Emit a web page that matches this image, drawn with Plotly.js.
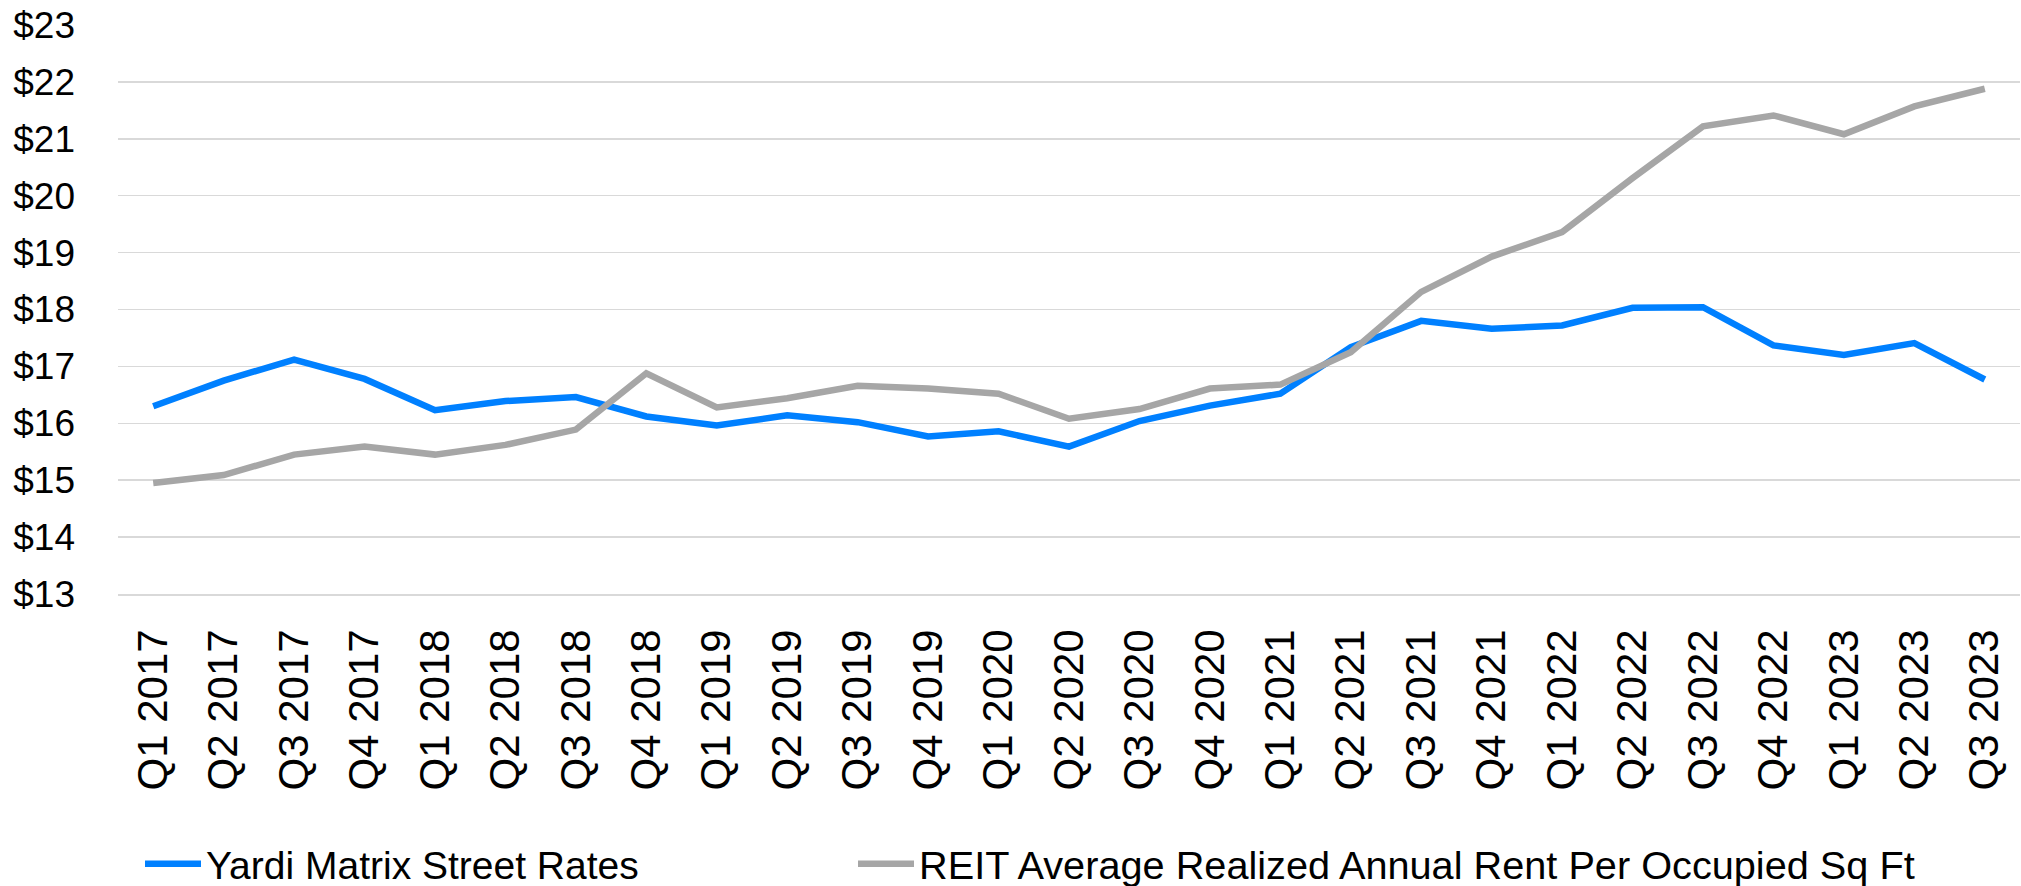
<!DOCTYPE html>
<html>
<head>
<meta charset="utf-8">
<script src="https://cdn.plot.ly/plotly-3.0.1.min.js"></script>
<style>
  html, body { margin: 0; padding: 0; background: #ffffff; }
  #chart { width: 2021px; height: 886px; }
</style>
</head>
<body>
<div id="chart"></div>
<script>
const quarters = [
  'Q1 2017','Q2 2017','Q3 2017','Q4 2017',
  'Q1 2018','Q2 2018','Q3 2018','Q4 2018',
  'Q1 2019','Q2 2019','Q3 2019','Q4 2019',
  'Q1 2020','Q2 2020','Q3 2020','Q4 2020',
  'Q1 2021','Q2 2021','Q3 2021','Q4 2021',
  'Q1 2022','Q2 2022','Q3 2022','Q4 2022',
  'Q1 2023','Q2 2023','Q3 2023'
];
const yardiStreetRates = [
  16.30, 16.75, 17.12, 16.78, 16.23, 16.39, 16.46,
  16.12, 15.96, 16.14, 16.02, 15.77, 15.86, 15.59,
  16.04, 16.31, 16.52, 17.34, 17.80, 17.66, 17.72,
  18.03, 18.04, 17.37, 17.20, 17.41, 16.77
];
const reitRealizedRent = [
  14.95, 15.09, 15.45, 15.59, 15.45, 15.62, 15.89,
  16.88, 16.28, 16.44, 16.66, 16.61, 16.52, 16.08,
  16.25, 16.61, 16.68, 17.25, 18.31, 18.93, 19.36,
  20.31, 21.22, 21.41, 21.08, 21.57, 21.88
];
const seriesNames = ['Yardi Matrix Street Rates', 'REIT Average Realized Annual Rent Per Occupied Sq Ft'];
const yTickValues = [13, 14, 15, 16, 17, 18, 19, 20, 21, 22, 23];
const yTickLabels = ['$13', '$14', '$15', '$16', '$17', '$18', '$19', '$20', '$21', '$22', '$23'];

const FONT = '"Liberation Sans", Arial, sans-serif';

const traces = [
  {
    x: quarters, y: yardiStreetRates, name: seriesNames[0],
    type: 'scatter', mode: 'lines',
    line: { color: '#0080FF', width: 6.5 },
    legend: 'legend',
    hoverinfo: 'skip'
  },
  {
    x: quarters, y: reitRealizedRent, name: seriesNames[1],
    type: 'scatter', mode: 'lines',
    line: { color: '#A6A6A6', width: 6.5 },
    legend: 'legend2',
    hoverinfo: 'skip'
  }
];

const legendBase = {
  orientation: 'h',
  xref: 'container', yref: 'container',
  y: 1 - 864 / 886,
  xanchor: 'left', yanchor: 'middle',
  font: { family: FONT, size: 39, color: '#000000' },
  itemwidth: 56,
  bgcolor: 'rgba(0,0,0,0)',
  borderwidth: 0,
  itemclick: false, itemdoubleclick: false
};

const layout = {
  width: 2021, height: 886,
  margin: { l: 118, r: 1, t: 25, b: 292, pad: 0 },
  paper_bgcolor: '#ffffff', plot_bgcolor: '#ffffff',
  font: { family: FONT, color: '#000000' },
  showlegend: true,
  xaxis: {
    type: 'category',
    categoryorder: 'array', categoryarray: quarters,
    range: [-0.5, quarters.length - 0.5],
    tickangle: -90,
    tickfont: { family: FONT, size: 42, color: '#000000' },
    showgrid: false, zeroline: false,
    showline: true, linecolor: '#d9d9d9', linewidth: 1.5,
    ticks: '', ticklabelstandoff: 17,
    fixedrange: true
  },
  yaxis: {
    range: [13, 23],
    tickmode: 'array', tickvals: yTickValues, ticktext: yTickLabels,
    tickfont: { family: FONT, size: 37, color: '#000000' },
    showgrid: true, gridcolor: '#d9d9d9', gridwidth: 1.5,
    zeroline: false, showline: false,
    ticks: '', ticklabelstandoff: 42,
    fixedrange: true
  },
  legend: Object.assign({}, legendBase, { x: 140 / 2021 }),
  legend2: Object.assign({}, legendBase, { x: 853 / 2021, font: { family: FONT, size: 39.7, color: '#000000' } }),
  hovermode: false
};

Plotly.newPlot('chart', traces, layout, { displayModeBar: false, staticPlot: true, responsive: false });
</script>
</body>
</html>
